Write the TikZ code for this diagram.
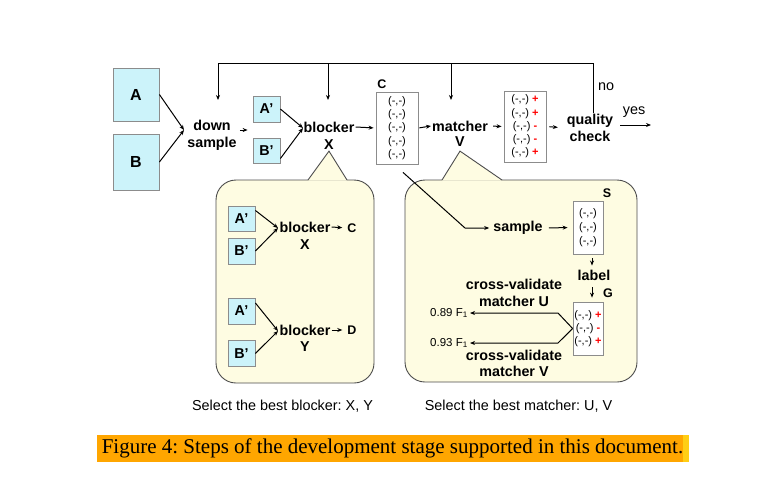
\documentclass[tikz,border=0pt]{standalone}
\usepackage{fontspec}
\setmainfont{Liberation Sans}
\newfontfamily\captionserif{Liberation Serif}
\usetikzlibrary{arrows.meta}
\frenchspacing
\definecolor{tablecyan}{RGB}{204,243,250}
\definecolor{calloutyellow}{RGB}{254,252,226}
\definecolor{boxgray}{RGB}{140,140,140}
\definecolor{highlightorange}{RGB}{255,166,0}
\definecolor{highlightyellow}{RGB}{255,206,20}
\newcommand{\plusmark}{\textcolor{red}{\textbf{+}}}
\newcommand{\minusmark}{\textcolor{red}{\textbf{-}}}

\begin{document}
\begin{tikzpicture}[x=1pt,y=-1pt,
table/.style={draw=boxgray,fill=tablecyan,line width=0.8pt,font=\fontsize{14.3}{17}\selectfont\bfseries,inner sep=0pt},
op/.style={font=\fontsize{14.3}{16.5}\selectfont\bfseries,align=center,inner sep=1pt},
pairs/.style={draw=boxgray,fill=white,line width=0.8pt,font=\fontsize{11}{13.3}\selectfont,align=center,inner sep=0pt},
tag/.style={font=\fontsize{12.5}{14}\selectfont\bfseries,inner sep=0pt},
plain/.style={font=\fontsize{14.4}{17}\selectfont,inner sep=0pt},
flow/.style={-{Stealth[length=5pt,width=4pt]},line width=1pt},
callout/.style={draw=black!70,fill=calloutyellow,line width=0.9pt},
calloutedge/.style={draw=black!70,line width=0.9pt}]
\useasboundingbox (0,0) rectangle (765,488);

\draw[callout,rounded corners=20pt] (216,180) rectangle (374,383);
\draw[callout,rounded corners=20pt] (405,180) rectangle (637,382);

\node[table,minimum width=46,minimum height=53,font=\fontsize{16}{18}\selectfont\bfseries] (A) at (136,94.5) {A};
\node[table,minimum width=46,minimum height=56,font=\fontsize{16}{18}\selectfont\bfseries] (B) at (136,162) {B};
\node[op] (ds) at (212,135.5) {down\\sample};
\coordinate (dsin) at (184,130);
\draw[flow] (A.east) -- (dsin);
\draw[flow] (B.east) -- (dsin);
\node[table,minimum width=27,minimum height=26] (A1) at (266.5,109) {A’};
\node[table,minimum width=27,minimum height=25] (B1) at (266.5,150.5) {B’};
\draw[flow,shorten <=2pt,shorten >=5pt] (ds.east|-dsin) -- (A1.west|-dsin);
\node[op] (blk) at (329,127) {blocker};
\node[op] (blkx) at (329,145) {X};
\coordinate (blkin) at (303,128);
\draw[flow] (A1.east) -- (blkin);
\draw[flow] (B1.-30) -- (blkin);
\node[pairs,minimum width=42,minimum height=72] (C) at (397,128) {(-,-)\\(-,-)\\(-,-)\\(-,-)\\(-,-)};
\node[tag] (Ctag) at (382,84) {C};
\draw[flow,shorten >=2pt] (blk.east) -- (C.west);
\node[op] (mt) at (460,126) {matcher};
\node[op] (mtv) at (460,142) {V};
\draw[flow,shorten <=1pt] (C.east) -- (mt.west);
\node[pairs,minimum width=42,minimum height=71] (R) at (525,126.5) {(-,-) \plusmark\\(-,-) \plusmark\\(-,-) \minusmark\\(-,-) \minusmark\\(-,-) \plusmark};
\draw[flow,shorten <=4pt,shorten >=2pt] (mt.east) -- (R.west);
\node[op] (qc) at (590,128) {quality\\check};
\draw[flow,shorten <=3pt,shorten >=8pt] (R.east) -- (qc.west);
\coordinate (fbr) at (593,63);
\coordinate (fbl) at (218,63);
\coordinate (fbds) at (218,100);
\coordinate (fbblk) at (328,100);
\coordinate (fbmt) at (451,100);
\draw[line width=1pt] (fbr|-qc.north) -- (fbr) -- (fbl);
\draw[flow] (fbl) -- (fbds);
\draw[flow] (fbblk|-fbl) -- (fbblk);
\draw[flow] (fbmt|-fbl) -- (fbmt);
\node[plain,anchor=west] (no) at (598,87) {no};
\node[plain] (yes) at (634,112) {yes};
\coordinate (out) at (651,125);
\draw[flow,shorten <=6pt] (qc.east|-out) -- (out);

\fill[calloutyellow] (308,180.6) -- (blkx.south) -- (347,180.6) -- cycle;
\draw[calloutedge] (308,180) -- (blkx.south) -- (347,180);
\fill[calloutyellow] (442,180.6) -- ([yshift=-3pt]mtv.south) -- (502,180.6) -- cycle;
\draw[calloutedge] (442,180) -- ([yshift=-3pt]mtv.south) -- (502,180);

\node[table,minimum width=27,minimum height=25] (A2) at (241.5,218.5) {A’};
\node[table,minimum width=27,minimum height=26] (B2) at (241.5,251) {B’};
\node[op] (blk2) at (305,227) {blocker};
\node[op] (blk2x) at (305,245) {X};
\coordinate (blk2in) at (278,228);
\draw[flow] (A2.30) -- (blk2in);
\draw[flow] (B2.east) -- (blk2in);
\node[tag] (Cout) at (352,228) {C};
\draw[flow,shorten >=5pt] (blk2.east) -- (Cout.west);
\node[table,minimum width=27,minimum height=26] (A3) at (241.5,311) {A’};
\node[table,minimum width=27,minimum height=26] (B3) at (241.5,353.5) {B’};
\node[op] (blk3) at (305,330) {blocker};
\node[op] (blk3y) at (305,347) {Y};
\coordinate (blk3in) at (278,331);
\draw[flow] (A3.30) -- (blk3in);
\draw[flow] (B3.east) -- (blk3in);
\node[tag] (Dout) at (352,330) {D};
\draw[flow,shorten >=5pt] (blk3.east) -- (Dout.west);

\coordinate (sbend) at (465,228);
\node[op] (smp) at (518,228) {sample};
\draw[flow,shorten >=3pt] ([shift={(6,8)}]C.south) -- (sbend) -- (smp.west);
\node[pairs,minimum width=30,minimum height=53,font=\fontsize{11}{14}\selectfont] (S) at (588,227.5) {(-,-)\\(-,-)\\(-,-)};
\node[tag] (Stag) at (607,193) {S};
\draw[flow,shorten <=5pt,shorten >=5pt] (smp.east) -- (S.west);
\node[op] (lbl) at (594,275) {label};
\draw[flow,shorten <=4pt,shorten >=3pt] ([xshift=4pt]S.south) -- ([xshift=-2pt]lbl.north);
\node[pairs,minimum width=30,minimum height=53] (G) at (588,328.5) {(-,-) \plusmark\\(-,-) \minusmark\\(-,-) \plusmark};
\node[tag] (Gtag) at (608,293) {G};
\draw[flow,shorten <=6pt,shorten >=4pt] ([xshift=-2pt]lbl.south) -- ([xshift=4pt]G.north);
\coordinate (uknee) at (558,313);
\coordinate (vknee) at (558,343);
\node[anchor=east,font=\fontsize{11.5}{13}\selectfont,inner sep=0pt] (fu) at (468,313) {0.89 F\textsubscript{1}};
\node[anchor=east,font=\fontsize{11.5}{13}\selectfont,inner sep=0pt] (fv) at (468,343) {0.93 F\textsubscript{1}};
\draw[flow,shorten >=2pt] (G.west) -- (uknee) -- (fu.east);
\draw[flow,shorten >=2pt] (G.west) -- (vknee) -- (fv.east);
\node[op] (cvu) at (514,293) {cross-validate\\matcher U};
\node[op] (cvv) at (514,363.5) {cross-validate\\matcher V};

\node[plain] (selb) at (282.5,406) {Select the best blocker: X, Y};
\node[plain] (selm) at (518.5,406) {Select the best matcher: U, V};

\fill[highlightorange] (97,435) rectangle (683,462);
\fill[highlightyellow] (683,435) rectangle (689,462);
\node[font=\captionserif\fontsize{21}{24}\selectfont,inner sep=0pt] (cap) at (392.5,448.5) {Figure 4: Steps of the development stage supported in this document.};
\end{tikzpicture}
\end{document}
